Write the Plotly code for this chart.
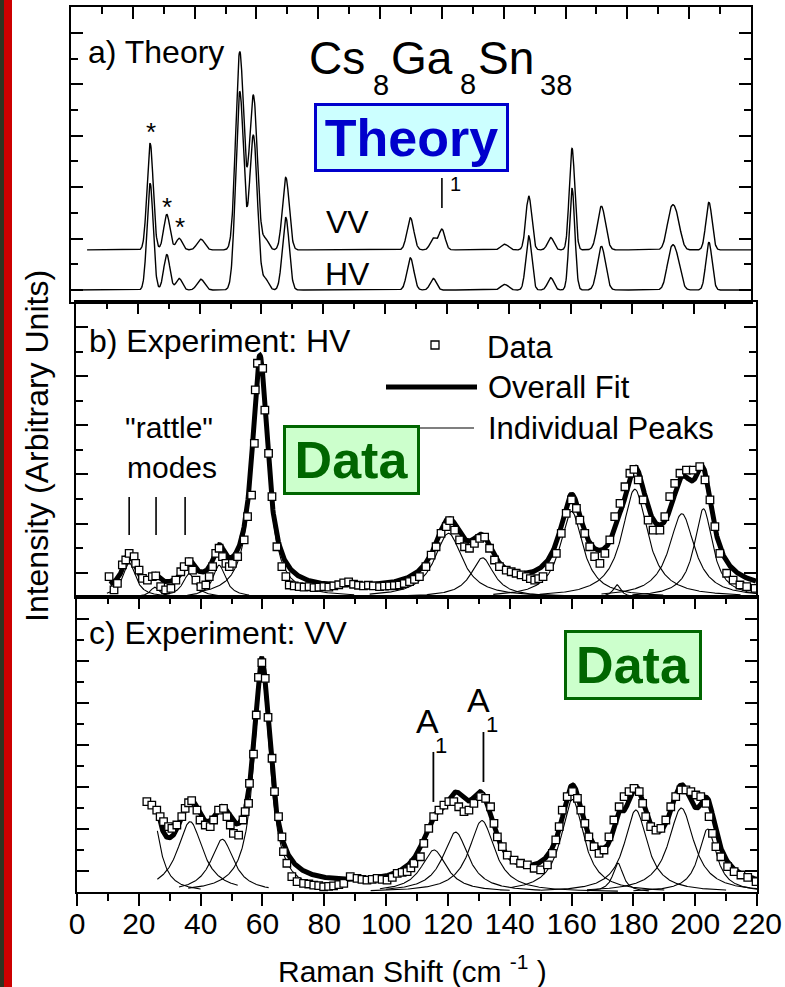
import numpy as np
import plotly.graph_objects as go

W, H = 785, 987
FONT = "Liberation Sans, Arial, sans-serif"

# ---------------- Panel a: theory (Gaussian peaks) ----------------
theory_centers = [25.6, 31.0, 35.0, 42.0, 54.6, 59.0, 63.0, 69.5, 109.8, 117.2, 140.3,
                  148.1, 155.2, 162.1, 171.6, 194.0, 196.0, 206.4]
theory_heights = [4.15, 1.38, 0.45, 0.42, 7.7, 6.0, 0.4, 2.82, 1.25, 0.45, 0.22,
                  2.1, 0.48, 3.95, 1.7, 1.3, 1.05, 1.85]
theory_sigmas = [1.0, 1.0, 1.0, 1.2, 1.3, 1.3, 1.0, 1.1, 1.1, 1.0, 1.2,
                 0.95, 1.0, 0.9, 1.3, 1.3, 1.3, 1.0]
vv_only_centers = [120.0]
vv_only_heights = [0.8]
vv_only_sigmas = [1.0]
vv_offset = 1.56
vv_start, hv_start = 5.2, 0.3

# ---------------- Panel b: HV experiment ----------------
b_data_x = [10.7, 12.3, 13.4, 15.0, 16.1, 17.2, 18.8, 19.3, 20.4, 21.5, 23.1, 24.7, 25.8, 27.4, 29.0,
            30.7, 32.3, 33.9, 35.0, 36.6, 37.7, 38.8, 40.4, 42.0, 43.1, 44.2, 45.2, 46.3, 47.4, 48.5,
            49.6, 50.6, 52.3, 54.4, 55.5, 56.8, 57.7, 58.0, 58.7, 60.4, 61.1, 62.3, 63.4, 65.0, 66.6,
            67.9, 69.0, 70.6, 72.2, 73.8, 75.4, 77.0, 78.6, 80.2, 81.8, 83.4, 85.0, 86.6, 88.2, 89.8,
            91.4, 93.0, 94.6, 96.2, 98.2, 99.8, 101.4, 103.0, 104.6, 106.2, 107.9, 109.5, 111.1, 113.2,
            114.9, 116.5, 118.1, 119.8, 120.9, 122.5, 124.1, 125.7, 127.3, 128.9, 130.6, 132.2, 133.8,
            135.4, 137.0, 139.2, 140.8, 142.4, 144.0, 145.7, 147.0, 148.4, 149.7, 151.1, 153.2, 155.4,
            157.0, 158.6, 160.3, 161.9, 163.0, 164.6, 166.2, 167.8, 169.5, 171.1, 172.7, 174.3, 176.0,
            177.6, 179.2, 180.5, 181.9, 183.5, 185.1, 186.7, 188.9, 190.5, 192.1, 193.7, 195.4, 197.5,
            199.7, 201.8, 203.5, 205.1, 206.7, 208.3, 210.5, 212.6, 214.8, 217.0, 219.7]
b_data_y = [0.83, 0.29, 0.56, 1.31, 1.51, 1.78, 1.65, 1.37, 1.10, 0.76, 0.69, 0.83, 0.86, 0.42, 0.29,
            0.35, 0.69, 1.03, 1.24, 1.44, 1.10, 0.69, 0.42, 0.49, 0.83, 1.24, 1.78, 1.99, 1.65, 1.37,
            1.24, 1.37, 1.65, 2.33, 3.28, 4.16, 6.27, 8.45, 9.54, 9.33, 7.63, 5.86, 4.10, 2.05, 1.24,
            0.83, 0.49, 0.45, 0.42, 0.40, 0.42, 0.38, 0.40, 0.42, 0.40, 0.45, 0.50, 0.58, 0.62, 0.52,
            0.48, 0.45, 0.48, 0.45, 0.42, 0.44, 0.45, 0.47, 0.49, 0.55, 0.63, 0.72, 0.83, 1.24,
            1.71, 2.05, 2.60, 2.87, 3.12, 2.73, 2.33, 2.05, 1.99, 2.19, 2.39, 2.44, 1.99,
            1.51, 1.24, 1.10, 1.03, 0.97, 0.90, 0.83, 0.75, 0.69, 0.75, 0.83, 1.24, 1.78,
            2.60, 3.41, 3.96, 3.62, 3.14, 2.60, 2.05, 1.65, 1.37, 1.78, 2.33, 3.28, 3.82,
            4.50, 5.05, 5.21, 4.78, 3.96, 3.14, 2.73, 2.73, 3.28, 4.10, 4.64, 5.05, 5.18,
            5.18, 5.32, 4.78, 3.96, 2.87, 1.78, 0.97, 0.69, 0.49, 0.42, 0.35]
b_peak_centers = [17.2, 25.5, 36.6, 46.3, 59.5, 120.5, 131.5, 160.3, 175.0, 180.8, 196.0, 203.0]
b_peak_amps = [1.4, 0.4, 0.95, 1.3, 9.5, 2.6, 1.6, 3.5, 0.5, 4.4, 3.4, 3.6]
b_peak_hwhm = [2.5, 1.8, 2.5, 2.5, 3.0, 5.5, 4.5, 4.5, 1.5, 5.0, 5.0, 3.6]
b_peak_from = [10, 20, 28, 36, 40, 95, 105, 135, 171, 150, 170, 180]
b_peak_to = [28, 32, 46, 56, 90, 160, 160, 190, 179, 215, 220, 220]
b_background = 0.25
b_fit_range = [11, 220]

# ---------------- Panel c: VV experiment ----------------
c_data_x = [22.6, 24.2, 25.8, 26.9, 28.0, 29.6, 30.7, 32.3, 33.9, 35.0, 36.1, 37.1, 38.8, 39.8, 41.5,
            43.1, 44.2, 45.8, 47.4, 48.5, 49.6, 50.6, 52.3, 53.7, 54.4, 55.5, 55.8, 57.1, 58.0, 58.7,
            59.8, 60.9, 61.8, 63.1, 63.9, 65.2, 66.3, 66.8, 67.9, 69.5, 71.2, 73.3, 75.0, 76.6, 78.2,
            79.8, 81.4, 83.0, 84.7, 86.3, 88.4, 90.6, 92.2, 93.8, 95.5, 97.1, 98.7, 100.3, 102.0, 103.6,
            105.2, 106.8, 108.0, 109.0, 111.1, 112.2, 113.8, 115.4, 117.1, 118.7, 120.3, 121.9, 123.5,
            125.2, 126.8, 128.4, 130.6, 132.2, 133.8, 134.9, 136.0, 137.6, 139.2, 141.4, 143.5, 145.7,
            147.9, 150.0, 152.2, 153.8, 154.9, 156.0, 157.0, 158.6, 160.3, 161.9, 163.0, 164.3, 165.6,
            167.3, 168.9, 170.5, 172.1, 173.7, 175.4, 177.0, 178.6, 180.2, 181.9, 183.0, 184.0, 185.6,
            187.3, 188.9, 190.5, 192.1, 193.7, 195.4, 197.0, 198.6, 200.2, 201.8, 203.5, 204.5, 205.6,
            206.7, 208.3, 210.5, 212.6, 214.8, 217.0, 219.7]
c_data_y = [4.30, 4.14, 3.90, 3.59, 3.35, 3.11, 3.03, 3.19, 3.59, 3.98, 4.25, 4.35, 3.90, 3.43, 3.19,
            3.11, 3.43, 3.90, 3.98, 3.59, 3.19, 2.79, 2.71, 3.43, 3.83, 4.22, 5.17, 6.57, 8.43, 10.22,
            10.92, 10.17, 8.32, 6.37, 4.78, 3.59, 2.63, 1.92, 1.37, 0.73, 0.49, 0.41, 0.38, 0.33, 0.30,
            0.25, 0.27, 0.29, 0.35, 0.41, 0.73, 0.65, 0.60, 0.57, 0.60, 0.65, 0.60, 0.57, 0.70, 0.89,
            0.93, 0.97, 1.15, 1.37, 1.68, 2.32, 3.03, 3.59, 3.90, 4.14, 4.30, 4.30, 4.06,
            3.83, 3.90, 4.22, 4.54, 4.46, 4.06, 3.27, 2.63, 2.16, 1.76, 1.52, 1.37, 1.29,
            1.13, 1.05, 1.29, 1.84, 2.48, 3.11, 3.90, 4.54, 4.78, 4.46, 3.90, 3.27, 2.63,
            2.16, 1.84, 2.00, 2.63, 3.43, 4.06, 4.54, 4.78, 4.94, 4.78, 4.22, 3.59, 3.11,
            2.95, 3.03, 3.43, 4.06, 4.54, 4.86, 4.86, 4.78, 4.62, 4.54, 4.22, 3.59, 2.79,
            2.16, 1.68, 1.21, 0.97, 0.81, 0.70, 0.49]
c_peak_centers = [24.0, 36.6, 47.0, 59.8, 115.5, 122.5, 131.0, 160.3, 175.0, 180.8, 195.5, 204.0]
c_peak_amps = [4.2, 3.35, 2.51, 10.4, 2.0, 2.85, 3.4, 4.4, 1.38, 3.9, 4.0, 3.0]
c_peak_hwhm = [3.0, 5.0, 4.5, 3.2, 5.0, 5.0, 5.0, 4.5, 2.0, 4.5, 5.0, 3.5]
c_peak_from = [26, 26, 33, 36, 98, 100, 95, 140, 165, 150, 165, 180]
c_peak_to = [40, 52, 62, 84, 140, 150, 175, 190, 185, 210, 220, 220]
c_background = 0.2
c_fit_range = [26, 220]

# ---------------- helpers ----------------
def gauss_sum(x, cs, hs, ss):
    y = np.zeros_like(x)
    for c, h, s in zip(cs, hs, ss):
        y += h * np.exp(-(x - c) ** 2 / (2 * s ** 2))
    return y

def lor(x, c, a, w):
    return a / (1 + ((x - c) / w) ** 2)

def px(x):
    return x / W

def py(y):
    return 1 - y / H

fig = go.Figure()

# theory curves
xv = np.linspace(vv_start, 220, 2200)
yv = vv_offset + gauss_sum(xv, theory_centers, theory_heights, theory_sigmas) \
    + gauss_sum(xv, vv_only_centers, vv_only_heights, vv_only_sigmas)
xh = np.linspace(hv_start, 220, 2200)
yh = gauss_sum(xh, theory_centers, theory_heights, theory_sigmas)
for xx, yy in [(xv, yv), (xh, yh)]:
    fig.add_trace(go.Scatter(x=xx, y=yy, mode="lines", line=dict(color="black", width=1.4),
                             xaxis="x", yaxis="y", showlegend=False, hoverinfo="skip"))

def add_exp(cs, amps, ws, f, t, bg, fr, dx, dy, xa, ya):
    tx, ty = [], []
    for c, a, w, x0, x1 in zip(cs, amps, ws, f, t):
        xx = np.linspace(x0, x1, 300)
        tx += list(xx) + [None]
        ty += list(lor(xx, c, a, w)) + [None]
    fig.add_trace(go.Scatter(x=tx, y=ty, mode="lines", line=dict(color="black", width=1.1),
                             xaxis=xa, yaxis=ya, showlegend=False, hoverinfo="skip"))
    xx = np.linspace(fr[0], fr[1], 1500)
    yy = np.full_like(xx, bg)
    for c, a, w in zip(cs, amps, ws):
        yy += lor(xx, c, a, w)
    fig.add_trace(go.Scatter(x=xx, y=yy, mode="lines", line=dict(color="black", width=5),
                             xaxis=xa, yaxis=ya, showlegend=False, hoverinfo="skip"))
    fig.add_trace(go.Scatter(x=dx, y=dy, mode="markers",
                             marker=dict(symbol="square", size=7.5, color="white",
                                         line=dict(color="black", width=1.3)),
                             xaxis=xa, yaxis=ya, showlegend=False, hoverinfo="skip"))

add_exp(b_peak_centers, b_peak_amps, b_peak_hwhm, b_peak_from, b_peak_to, b_background,
        b_fit_range, b_data_x, b_data_y, "x2", "y2")
add_exp(c_peak_centers, c_peak_amps, c_peak_hwhm, c_peak_from, c_peak_to, c_background,
        c_fit_range, c_data_x, c_data_y, "x3", "y3")
fig.add_trace(go.Scatter(x=[0], y=[0], mode="markers", marker=dict(opacity=0),
                         xaxis="x4", yaxis="y3", showlegend=False, hoverinfo="skip"))

LINE = dict(showline=True, linecolor="black", linewidth=2, showgrid=False, zeroline=False,
            automargin=False)
TICK = dict(tickwidth=2, tickcolor="black")

def xax(dom, anchor, side, ticks, labels=False, mirror=True, overlay=None):
    d = dict(domain=[px(dom[0]), px(dom[1])], anchor=anchor, side=side, range=[0, 220],
             tick0=0, dtick=20, ticks=ticks, ticklen=12, showticklabels=labels,
             minor=dict(dtick=10, ticks=ticks, ticklen=7, tickwidth=2, tickcolor="black", showgrid=False),
             **TICK, **LINE)
    d["mirror"] = mirror
    if overlay:
        d["overlaying"] = overlay
        d["showline"] = False
    if labels:
        d["tickfont"] = dict(family=FONT, size=30, color="black")
        d["ticklabelstandoff"] = -8
    return d

def yax(top, bot, anchor, rng, tick0):
    return dict(domain=[py(bot), py(top)], anchor=anchor, range=rng, tick0=tick0, dtick=2,
                ticks="inside", ticklen=12, showticklabels=False, mirror="ticks",
                minor=dict(dtick=1, ticks="inside", ticklen=7, tickwidth=2, tickcolor="black", showgrid=False),
                **TICK, **LINE)

shapes = [
    dict(type="rect", xref="paper", yref="paper", x0=0, x1=px(4), y0=0, y1=1,
         fillcolor="#2e3320", line=dict(width=0), layer="below"),
    dict(type="rect", xref="paper", yref="paper", x0=px(4), x1=px(12), y0=0, y1=1,
         fillcolor="#cc0000", line=dict(width=0), layer="below"),
    dict(type="line", xref="x", yref="y", x0=120, x1=120, y0=3.19, y1=4.36, line=dict(color="black", width=1.6)),
    dict(type="line", xref="x2", yref="y2", x0=17.2, x1=17.2, y0=2.53, y1=4.08, line=dict(color="black", width=1.6)),
    dict(type="line", xref="x2", yref="y2", x0=25.9, x1=25.9, y0=2.53, y1=4.08, line=dict(color="black", width=1.6)),
    dict(type="line", xref="x2", yref="y2", x0=35.3, x1=35.3, y0=2.53, y1=4.08, line=dict(color="black", width=1.6)),
    dict(type="line", xref="x3", yref="y3", x0=115.3, x1=115.3, y0=4.29, y1=6.67, line=dict(color="black", width=1.8)),
    dict(type="line", xref="x3", yref="y3", x0=131.5, x1=131.5, y0=5.24, y1=7.62, line=dict(color="black", width=1.8)),
    dict(type="rect", xref="paper", yref="paper", x0=px(431), x1=px(439), y0=py(349), y1=py(341),
         fillcolor="white", line=dict(color="black", width=1.3)),
    dict(type="line", xref="paper", yref="paper", x0=px(386), x1=px(477), y0=py(387), y1=py(387),
         line=dict(color="black", width=5)),
    dict(type="line", xref="paper", yref="paper", x0=px(405), x1=px(474), y0=py(428), y1=py(428),
         line=dict(color="black", width=1.2)),
]

def T(text, x, y, size, xanchor="center", color="black", **kw):
    return dict(text=text, x=px(x), y=py(y), xref="paper", yref="paper", xanchor=xanchor,
                yanchor="middle", showarrow=False, font=dict(family=FONT, size=size, color=color), **kw)

def box(text, cx, cy, w, h, fg, bg, size):
    return dict(text="<b>%s</b>" % text, x=px(cx), y=py(cy), xref="paper", yref="paper",
                xanchor="center", yanchor="middle", showarrow=False, width=w, height=h,
                bgcolor=bg, bordercolor=fg, borderwidth=3, borderpad=0,
                font=dict(family=FONT, size=size, color=fg))

annotations = [
    T("a) Theory", 86, 52, 32, xanchor="left"),
    T("Cs", 307, 58, 46, xanchor="left"),
    T("8", 371, 85, 29, xanchor="left"),
    T("Ga", 389, 58, 46, xanchor="left"),
    T("8", 458, 84, 29, xanchor="left"),
    T("Sn", 476, 58, 46, xanchor="left"),
    T("38", 538, 85, 29, xanchor="left"),
    T("A", 440, 158, 32),
    T("1", 455, 184, 20),
    box("Theory", 411.5, 137.5, 189, 63, "#0000cc", "#ccffff", 52),
    T("*", 151, 132, 26),
    T("*", 167, 207, 26),
    T("*", 180, 227, 26),
    T("VV", 347, 222, 32),
    T("HV", 347, 274, 32),
    T("b) Experiment: HV", 87, 341, 32, xanchor="left"),
    T('"rattle"', 169, 427, 30),
    T("modes", 172, 467, 30),
    box("Data", 351.5, 460, 131, 64, "#006600", "#ccffcc", 52),
    T("Data", 485, 348, 31, xanchor="left"),
    T("Overall Fit", 486, 387, 31, xanchor="left"),
    T("Individual Peaks", 486, 428, 31, xanchor="left"),
    T("c) Experiment: VV", 87, 633, 32, xanchor="left"),
    box("Data", 633, 665, 132, 64, "#006600", "#ccffcc", 52),
    T("A", 427, 721, 34),
    T("1", 441, 745, 22),
    T("A", 478, 700, 34),
    T("1", 492, 724, 22),
    T("Intensity (Arbitrary Units)", 37, 446, 32, textangle=-90),
    T("Raman Shift (cm <sup>-1</sup> )", 412, 969, 30),
]

fig.update_layout(
    template="none",
    width=W, height=H, autosize=False, margin=dict(l=0, r=0, t=0, b=0, pad=0),
    paper_bgcolor="white", plot_bgcolor="rgba(0,0,0,0)",
    xaxis=xax((71, 751), "y", "top", "inside"),
    xaxis2=xax((76, 756), "y2", "top", "inside"),
    xaxis3=xax((77, 757), "y3", "bottom", "outside", labels=True),
    xaxis4=xax((77, 757), "y3", "top", "inside", mirror=False, overlay="x3"),
    yaxis=yax(7, 302, "x", [-0.467, 11.01], 0),
    yaxis2=yax(302, 597, "x2", [0, 12.04], 1),
    yaxis3=yax(597, 892, "x3", [0, 14.05], 1),
    shapes=shapes, annotations=annotations, showlegend=False,
)

fig.write_html("out.html", config=dict(displayModeBar=False),
               post_script="document.body.style.margin='0';document.body.style.overflow='hidden';")
